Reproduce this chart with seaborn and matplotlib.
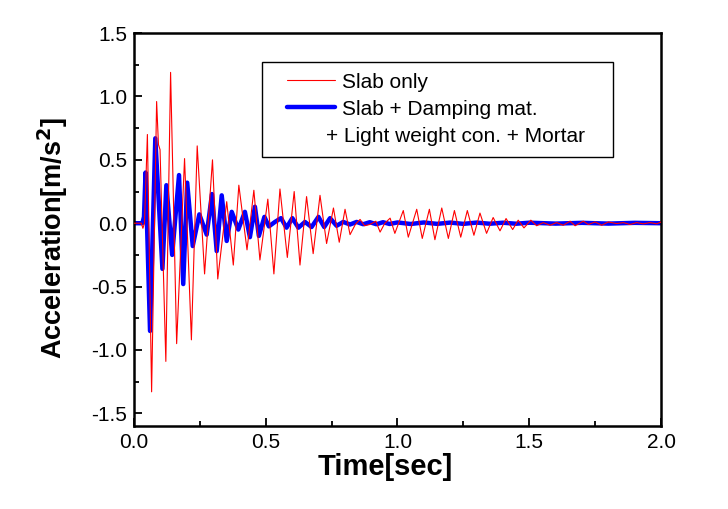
import matplotlib
matplotlib.use("Agg")
import matplotlib.pyplot as plt
from matplotlib.lines import Line2D
from matplotlib.patches import Rectangle
import seaborn as sns
import pandas as pd

# peaks / troughs (time in s, acceleration in m/s^2)
red_t = [0.000, 0.028, 0.034, 0.040, 0.051, 0.067, 0.086, 0.093, 0.099, 0.121, 0.139, 0.162,
         0.192, 0.218, 0.240, 0.268, 0.298, 0.318, 0.352, 0.377, 0.398, 0.429, 0.455, 0.478,
         0.508, 0.531, 0.554, 0.582, 0.608, 0.630, 0.655, 0.680, 0.706, 0.731, 0.757, 0.779,
         0.801, 0.820, 0.840, 0.858, 0.875, 0.895, 0.918, 0.934, 0.952, 0.972, 0.990, 1.022,
         1.041, 1.073, 1.094, 1.121, 1.142, 1.168, 1.193, 1.216, 1.240, 1.265, 1.290, 1.313,
         1.338, 1.363, 1.389, 1.412, 1.437, 1.458, 1.480, 1.506, 1.528, 1.553, 1.579, 1.604,
         1.629, 1.655, 1.674, 1.705, 1.724, 1.750, 1.775, 1.800, 1.832, 1.857, 1.882, 1.908,
         1.933, 1.958, 1.984, 2.000]
red_a = [0.000, 0.000, -0.040, 0.000, 0.700, -1.330, 0.960, 0.620, 0.580, -1.090, 1.190, -0.950,
         0.510, -0.920, 0.610, -0.400, 0.500, -0.440, 0.170, -0.330, 0.300, -0.210, 0.260, -0.290,
         0.190, -0.400, 0.270, -0.270, 0.250, -0.330, 0.210, -0.240, 0.220, -0.160, 0.120, -0.150,
         0.110, -0.090, -0.010, 0.030, -0.020, -0.010, 0.016, -0.070, 0.000, 0.040, -0.080, 0.100,
         -0.110, 0.110, -0.120, 0.110, -0.130, 0.120, -0.120, 0.100, -0.110, 0.100, -0.095, 0.080,
         -0.080, 0.045, -0.060, 0.037, -0.050, 0.024, -0.037, 0.024, -0.020, 0.005, -0.016, 0.005,
         -0.016, 0.016, -0.020, 0.016, -0.010, 0.010, -0.016, 0.010, -0.003, 0.005, -0.010, 0.005,
         -0.005, 0.005, -0.005, 0.010]

blue_t = [0.000, 0.032, 0.038, 0.044, 0.061, 0.081, 0.108, 0.123, 0.145, 0.171, 0.187, 0.202,
          0.223, 0.248, 0.276, 0.296, 0.314, 0.333, 0.352, 0.371, 0.396, 0.421, 0.440, 0.459,
          0.474, 0.495, 0.512, 0.535, 0.558, 0.579, 0.601, 0.624, 0.649, 0.674, 0.700, 0.722,
          0.744, 0.769, 0.794, 0.820, 0.845, 0.870, 0.895, 0.920, 0.945, 0.970, 1.000, 1.050,
          1.100, 1.150, 1.200, 1.250, 1.300, 1.350, 1.400, 1.450, 1.500, 1.600, 1.700, 1.800,
          1.900, 2.000]
blue_a = [0.000, 0.000, 0.050, 0.400, -0.850, 0.670, -0.360, 0.300, -0.250, 0.380, -0.480, 0.320,
          -0.180, 0.070, -0.090, 0.230, -0.220, 0.220, -0.140, 0.090, -0.050, 0.090, -0.110, 0.130,
          -0.100, 0.050, -0.025, 0.010, 0.040, -0.035, 0.040, -0.035, 0.010, -0.030, 0.050, -0.030,
          0.040, -0.020, 0.010, -0.010, 0.010, -0.008, 0.008, -0.008, 0.008, -0.006, 0.006, -0.006,
          0.006, -0.005, 0.005, -0.005, 0.005, -0.004, 0.004, -0.004, 0.004, -0.003, 0.003, -0.003,
          0.003, 0.000]

labels = ["Slab only", "Slab + Damping mat.", "+ Light weight con. + Mortar"]

sns.set_style("ticks")
plt.rcParams["font.family"] = ["Liberation Sans", "DejaVu Sans"]
plt.rcParams["text.color"] = "black"
plt.rcParams["axes.labelcolor"] = "black"

red_df = pd.DataFrame({"t": red_t, "a": red_a})
blue_df = pd.DataFrame({"t": blue_t, "a": blue_a})

fig = plt.figure(figsize=(7.28, 5.09), dpi=100)
ax = fig.add_axes([0.184, 0.163, 0.724, 0.772])

sns.lineplot(data=blue_df, x="t", y="a", estimator=None, sort=False, ax=ax,
             color="#0000ff", lw=3.2, zorder=2)
sns.lineplot(data=red_df, x="t", y="a", estimator=None, sort=False, ax=ax,
             color="#ff0000", lw=0.8, zorder=3)

ax.set_xlim(0, 2.0)
ax.set_ylim(-1.6, 1.5)
ax.set_xticks([0.0, 0.5, 1.0, 1.5, 2.0])
ax.set_xticks([0.25, 0.75, 1.25, 1.75], minor=True)
ax.set_yticks([-1.5, -1.0, -0.5, 0.0, 0.5, 1.0, 1.5])
ax.set_yticks([-1.25, -0.75, -0.25, 0.25, 0.75, 1.25], minor=True)
ax.set_xticklabels(["0.0", "0.5", "1.0", "1.5", "2.0"])
ax.set_yticklabels(["-1.5", "-1.0", "-0.5", "0.0", "0.5", "1.0", "1.5"])
ax.tick_params(which="both", direction="in", width=1.3, labelsize=15,
               colors="black", labelcolor="black")
ax.tick_params(which="major", length=6, pad=5)
ax.tick_params(which="minor", length=3.5)
for s in ax.spines.values():
    s.set_linewidth(1.8)
    s.set_color("black")

ax.set_xlabel("Time[sec]", fontsize=21, fontweight="bold", labelpad=1,
              color="black", x=0.476)
ax.set_ylabel("Acceleration[m/s$^\\mathbf{2}$]", fontsize=19.5, fontweight="bold",
              labelpad=15, color="black", y=0.48)

# legend box drawn separately so its padding matches the reference
ax.add_patch(Rectangle((0.243, 0.684), 0.666, 0.242, transform=ax.transAxes,
                       facecolor="white", edgecolor="black", lw=1.0, zorder=4))
handles = [Line2D([], [], color="#ff0000", lw=0.8),
           Line2D([], [], color="#0000ff", lw=3.2),
           Line2D([], [], color="none")]
leg = ax.legend(handles, labels, loc="upper left", bbox_to_anchor=(0.290, 0.899),
                fontsize=15, frameon=False, handlelength=2.3, handletextpad=0.33,
                borderpad=0, labelspacing=0.38, borderaxespad=0)
leg.set_zorder(5)
leg.get_texts()[2].set_x(-16)

fig.savefig("out.png", dpi=100)
